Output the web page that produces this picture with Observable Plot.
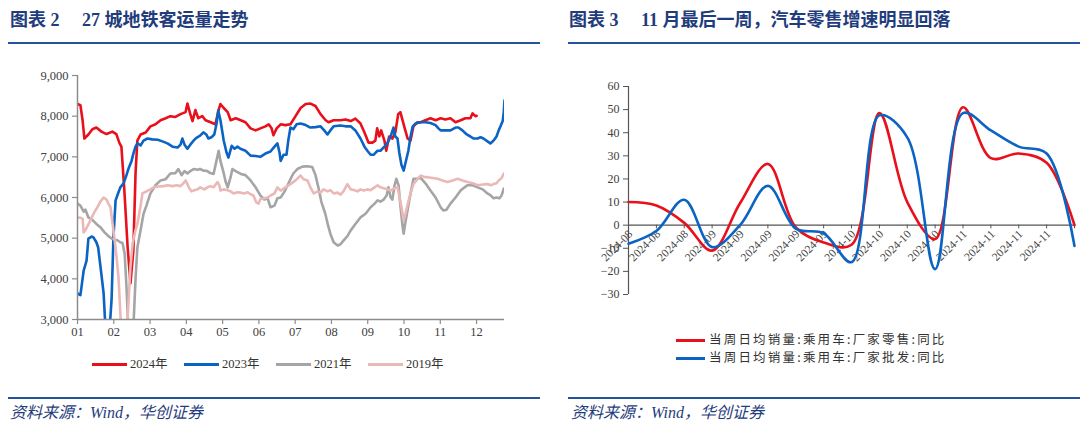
<!DOCTYPE html>
<html><head><meta charset="utf-8">
<script src="https://cdn.jsdelivr.net/npm/d3@7"></script>
<script src="https://cdn.jsdelivr.net/npm/@observablehq/plot@0.6"></script>
<style>
body{margin:0;width:1080px;height:440px;background:#fff;position:relative;overflow:hidden;font-family:"Liberation Serif","Noto Sans CJK SC",serif;}
.abs{position:absolute;}
.title{font-size:18px;font-weight:bold;color:#1f3c7c;white-space:nowrap;line-height:24px;}
.rule{height:2px;background:#24529c;}
.src{font-size:16px;font-style:italic;color:#1f3c7c;white-space:nowrap;line-height:20px;}
.sw{height:3px;}
.lg{font-size:12.5px;color:#333;white-space:nowrap;line-height:16px;}
.lg2{font-size:12.5px;color:#333;white-space:nowrap;line-height:16px;letter-spacing:2.2px;font-family:"Noto Sans CJK SC",sans-serif;}
</style></head>
<body>
<script>
// ---------- Left chart: 27城地铁客运量 (x = month position, 1 = Jan 1) ----------
const monthTicks = [1,2,3,4,5,6,7,8,9,10,11,12];
const monthLabels = ["01","02","03","04","05","06","07","08","09","10","11","12"];
const yTicksLeft = [3000,4000,5000,6000,7000,8000,9000];
const seriesNames = ["2024年","2023年","2021年","2019年"];
const seriesColors = ["#e8101a","#0b63c4","#a5a5a5","#ebb8b8"];

const s2024 = [[1.00,8300],[1.08,8270],[1.14,7900],[1.19,7450],[1.30,7550],[1.41,7680],[1.52,7720],[1.66,7620],[1.80,7560],[1.96,7620],[2.07,7560],[2.16,7330],[2.21,7250],[2.29,6200],[2.38,4800],[2.46,3890],[2.54,4700],[2.60,6600],[2.65,7400],[2.74,7550],[2.88,7600],[3.01,7750],[3.15,7800],[3.29,7900],[3.43,7950],[3.56,8000],[3.70,7980],[3.84,8050],[3.98,8100],[4.03,8310],[4.11,8050],[4.17,7880],[4.25,8150],[4.33,7950],[4.44,8000],[4.53,7900],[4.67,7850],[4.80,7800],[4.89,8150],[4.94,8300],[5.03,8200],[5.14,8100],[5.22,7900],[5.36,7950],[5.50,7900],[5.63,7850],[5.77,7700],[5.91,7650],[6.04,7700],[6.18,7750],[6.27,7800],[6.35,7700],[6.40,7530],[6.49,7700],[6.60,7800],[6.73,7780],[6.87,7800],[7.01,8000],[7.15,8200],[7.29,8300],[7.42,8310],[7.56,8250],[7.70,8050],[7.84,7900],[7.92,7850],[8.06,7900],[8.25,7900],[8.39,7920],[8.53,7880],[8.66,7940],[8.80,7820],[8.91,7600],[9.02,7350],[9.13,7350],[9.21,7400],[9.26,7700],[9.32,7500],[9.37,7650],[9.46,7400],[9.51,7150],[9.59,7500],[9.68,7450],[9.76,7600],[9.84,8050],[9.90,8100],[10.02,7700],[10.10,7450],[10.18,7400],[10.26,7750],[10.37,7850],[10.46,7850],[10.59,7900],[10.73,7950],[10.87,7900],[11.01,7950],[11.14,7920],[11.28,7950],[11.42,7850],[11.56,7900],[11.69,7950],[11.83,7950],[11.89,8070],[11.97,8000],[12.00,8010]];

const s2023 = [[1.00,3640],[1.08,3600],[1.17,4200],[1.25,4450],[1.30,4990],[1.39,5040],[1.44,5020],[1.52,4900],[1.57,4770],[1.66,4100],[1.72,3640],[1.77,2800],[1.83,2500],[1.88,2700],[1.94,3500],[1.99,5000],[2.05,5930],[2.13,6130],[2.18,6250],[2.27,6350],[2.35,6550],[2.41,6720],[2.49,6900],[2.54,7080],[2.60,7250],[2.65,7330],[2.74,7280],[2.82,7400],[2.93,7450],[3.06,7430],[3.21,7420],[3.34,7380],[3.48,7330],[3.62,7250],[3.76,7230],[3.84,7300],[3.89,7450],[3.95,7300],[4.03,7200],[4.11,7300],[4.22,7420],[4.30,7480],[4.38,7520],[4.47,7600],[4.55,7550],[4.61,7450],[4.69,7480],[4.77,7550],[4.83,7800],[4.88,8140],[4.94,7900],[5.03,7400],[5.11,7100],[5.16,6980],[5.25,7270],[5.33,7200],[5.41,7250],[5.49,7200],[5.63,7150],[5.77,7030],[5.91,7020],[6.04,7000],[6.18,7080],[6.32,7130],[6.43,7250],[6.51,7330],[6.57,7100],[6.60,6900],[6.68,7050],[6.76,7050],[6.81,7400],[6.87,7720],[6.95,7680],[7.04,7800],[7.15,7820],[7.29,7780],[7.42,7720],[7.56,7730],[7.70,7750],[7.80,7650],[7.89,7550],[7.97,7650],[8.06,7750],[8.25,7770],[8.39,7750],[8.53,7750],[8.66,7650],[8.80,7450],[8.91,7250],[8.99,7150],[9.08,7050],[9.16,7050],[9.27,7150],[9.35,7150],[9.46,7250],[9.54,7330],[9.63,7500],[9.71,7720],[9.76,7500],[9.82,7450],[9.87,7100],[9.93,6800],[9.99,6660],[10.04,6850],[10.12,7150],[10.18,7500],[10.24,7750],[10.32,7820],[10.46,7850],[10.59,7850],[10.73,7830],[10.87,7780],[10.95,7700],[11.01,7650],[11.14,7650],[11.28,7650],[11.42,7720],[11.50,7720],[11.61,7650],[11.73,7550],[11.83,7500],[11.92,7450],[12.03,7450],[12.11,7480],[12.19,7450],[12.30,7380],[12.38,7330],[12.47,7400],[12.55,7500],[12.61,7650],[12.66,7750],[12.72,7880],[12.75,8100],[12.77,8390]];

const s2021 = [[1.00,5850],[1.08,5800],[1.17,5650],[1.22,5700],[1.30,5510],[1.41,5450],[1.52,5350],[1.63,5270],[1.74,5150],[1.85,5050],[1.94,4990],[2.02,4970],[2.10,4950],[2.18,4900],[2.24,4880],[2.30,4620],[2.35,3800],[2.41,2600],[2.49,2500],[2.54,2800],[2.60,4000],[2.65,4770],[2.74,5200],[2.82,5600],[2.90,5800],[3.01,6100],[3.15,6300],[3.29,6420],[3.43,6450],[3.56,6590],[3.70,6600],[3.78,6700],[3.87,6550],[3.95,6650],[4.03,6590],[4.11,6650],[4.20,6700],[4.31,6680],[4.38,6700],[4.47,6660],[4.58,6650],[4.66,6600],[4.75,6580],[4.83,6900],[4.89,7150],[4.94,6900],[5.03,6600],[5.08,6400],[5.14,6250],[5.22,6500],[5.27,6700],[5.36,6650],[5.50,6580],[5.63,6550],[5.77,6420],[5.91,6250],[6.04,6050],[6.15,5950],[6.24,5980],[6.32,5760],[6.43,5800],[6.51,5980],[6.60,6000],[6.71,6150],[6.79,6300],[6.87,6450],[6.95,6590],[7.06,6700],[7.20,6760],[7.33,6770],[7.47,6750],[7.56,6550],[7.64,6250],[7.72,5900],[7.83,5600],[7.91,5300],[7.97,5110],[8.06,4900],[8.17,4820],[8.25,4850],[8.33,4940],[8.44,5050],[8.53,5190],[8.66,5350],[8.80,5510],[8.94,5600],[9.08,5760],[9.19,5850],[9.27,5930],[9.35,5900],[9.44,5950],[9.52,6050],[9.57,6250],[9.63,6000],[9.68,5950],[9.74,6300],[9.79,6460],[9.85,6300],[9.90,5800],[9.96,5300],[9.99,5110],[10.04,5400],[10.10,5700],[10.18,6100],[10.26,6460],[10.35,6460],[10.46,6480],[10.59,6350],[10.73,6170],[10.87,6000],[11.01,5760],[11.09,5680],[11.17,5700],[11.28,5850],[11.42,6000],[11.56,6170],[11.67,6250],[11.75,6300],[11.89,6300],[12.03,6250],[12.17,6200],[12.30,6100],[12.39,6050],[12.47,5980],[12.55,6000],[12.63,5980],[12.69,6050],[12.75,6220]];

const s2019 = [[1.00,5510],[1.08,5500],[1.14,5480],[1.17,5140],[1.22,5200],[1.30,5340],[1.39,5500],[1.47,5650],[1.55,5760],[1.63,5900],[1.72,6000],[1.80,5950],[1.85,5850],[1.91,5760],[1.96,5400],[2.02,5000],[2.08,4500],[2.13,4040],[2.19,3000],[2.24,2500],[2.32,2500],[2.38,3000],[2.46,4300],[2.52,4870],[2.60,5200],[2.65,5350],[2.74,5800],[2.79,6100],[2.90,6150],[3.01,6200],[3.10,6250],[3.23,6270],[3.37,6280],[3.48,6300],[3.62,6280],[3.73,6300],[3.84,6280],[3.92,6350],[3.98,6420],[4.07,6250],[4.14,6150],[4.20,6170],[4.31,6200],[4.38,6250],[4.50,6200],[4.58,6250],[4.67,6280],[4.75,6250],[4.86,6380],[4.91,6300],[4.94,6170],[5.03,6200],[5.14,6180],[5.22,6150],[5.30,6100],[5.41,6130],[5.49,6120],[5.60,6100],[5.69,6130],[5.77,6080],[5.85,6050],[5.93,5880],[5.99,5850],[6.04,5960],[6.15,5980],[6.24,6000],[6.32,6050],[6.43,6100],[6.51,6250],[6.60,6170],[6.73,6250],[6.87,6330],[7.01,6420],[7.15,6540],[7.23,6450],[7.34,6420],[7.42,6250],[7.51,6100],[7.62,6150],[7.70,6120],[7.78,6200],[7.89,6150],[7.97,6180],[8.06,6100],[8.17,6120],[8.25,6070],[8.33,6150],[8.44,6330],[8.53,6200],[8.64,6180],[8.72,6150],[8.80,6200],[8.89,6170],[8.99,6200],[9.08,6180],[9.19,6250],[9.27,6300],[9.35,6250],[9.44,6230],[9.55,6200],[9.63,6170],[9.74,6230],[9.82,6250],[9.88,6000],[9.93,5760],[9.99,5440],[10.04,5600],[10.12,5900],[10.18,6100],[10.26,6330],[10.37,6450],[10.46,6540],[10.57,6500],[10.65,6500],[10.79,6480],[10.93,6460],[11.06,6420],[11.20,6380],[11.34,6420],[11.48,6460],[11.61,6420],[11.75,6380],[11.89,6350],[12.03,6300],[12.17,6320],[12.30,6330],[12.39,6300],[12.47,6330],[12.55,6350],[12.61,6420],[12.69,6480],[12.75,6590]];

// ---------- Right chart: 当周日均销量 同比 (%) ----------
// 17 weekly points; the reference shows labels for the first 16 only
const weekLabels = ["2024-08","2024-08","2024-08","2024-09","2024-09","2024-09","2024-09","2024-09","2024-10","2024-10","2024-10","2024-10","2024-11","2024-11","2024-11","2024-11","2024-11"];
const shownLabelCount = 16;
const retailYoY    = [10, 8.5, 1, -11, 9.5, 26.5, -1, -7.5, -8.5, 48.5, 10, -6, 51, 29, 31, 27, 0];
const wholesaleYoY = [-8, -2.5, 11, -9.5, 0, 17, -1.5, -3.5, -16, 47.5, 38, -19, 48.5, 41, 34, 31, -9];
const yTicksRight = [-30,-20,-10,0,10,20,30,40,50,60];
const rightNames = ["当周日均销量:乘用车:厂家零售:同比","当周日均销量:乘用车:厂家批发:同比"];
const rightColors = ["#e8101a","#0b63c4"];

function el(tag, cls, style, text){
  const e=document.createElement(tag); if(cls) e.className=cls;
  Object.assign(e.style, style||{}); if(text!=null) e.textContent=text;
  document.body.appendChild(e); return e;
}
const px = v => v + "px";

// headers & footers
el("div","abs title",{left:px(10),top:px(8)},"图表 2\u3000 27 城地铁客运量走势");
el("div","abs rule",{left:px(8),top:px(42),width:px(532)});
el("div","abs title",{left:px(569),top:px(8)},"图表 3\u3000 11 月最后一周，汽车零售增速明显回落");
el("div","abs rule",{left:px(568),top:px(42),width:px(512)});
el("div","abs rule",{left:px(8),top:px(397),width:px(532)});
el("div","abs rule",{left:px(568),top:px(397),width:px(512)});
el("div","abs src",{left:px(10),top:px(403)},"资料来源：Wind，华创证券");
el("div","abs src",{left:px(571),top:px(403)},"资料来源：Wind，华创证券");

// left legend
const lgX = [92,184,276,368];
seriesNames.forEach((n,i)=>{
  el("div","abs sw",{left:px(lgX[i]),top:px(363),width:px(35),background:seriesColors[i]});
  el("div","abs lg",{left:px(lgX[i]+38),top:px(356)},n);
});
// right legend
rightNames.forEach((n,i)=>{
  el("div","abs sw",{left:px(676),top:px(339+i*18),width:px(29),background:rightColors[i]});
  el("div","abs lg2",{left:px(709),top:px(331+i*18)},n);
});

// ---------- Left plot ----------
const leftData = [s2024,s2023,s2021,s2019].flatMap((s,k)=>s.map(([m,v])=>({m,v,k})));
const axisCol = "#8c8c8c";
const left = Plot.plot({
  width:530, height:285,
  marginLeft:77, marginRight:26, marginTop:15, marginBottom:26,
  x:{domain:[1,12.77]},
  y:{domain:[3000,9000]},
  style:{fontFamily:"'Liberation Serif',serif", fontSize:"12.5px", color:"#404040", background:"transparent"},
  marks:[
    ...[0,1,2,3].map(k=>Plot.line(leftData.filter(d=>d.k===k),{x:"m",y:"v",stroke:seriesColors[k],strokeWidth:2.6,clip:true,strokeLinejoin:"round"})),
    Plot.ruleX([1],{stroke:axisCol,strokeWidth:1.5}),
    Plot.ruleY([3000],{stroke:axisCol,strokeWidth:1.5}),
    Plot.axisY({ticks:yTicksLeft,tickFormat:d3.format(","),tickSize:5,tickPadding:4,stroke:axisCol,strokeWidth:1.2,label:null}),
    Plot.axisX({ticks:monthTicks,tickFormat:d=>monthLabels[monthTicks.indexOf(d)],tickSize:5,tickPadding:3,stroke:axisCol,strokeWidth:1.2,label:null})
  ]
});
Object.assign(left.style,{position:"absolute",left:"0px",top:"60px"});
document.body.appendChild(left);

// ---------- Right plot ----------
const idx = weekLabels.map((_,i)=>i);
const labelIdx = idx.slice(0, shownLabelCount);
const rightData = [retailYoY,wholesaleYoY].flatMap((s,k)=>s.map((v,i)=>({i,v,k})));
const right = Plot.plot({
  width:520, height:240,
  marginLeft:68, marginRight:6, marginTop:16, marginBottom:16,
  x:{domain:[0,16], axis:null},
  y:{domain:[-30,60]},
  style:{fontFamily:"'Liberation Serif',serif", fontSize:"12px", color:"#404040", background:"transparent"},
  marks:[
    Plot.ruleX([0],{y1:-30,y2:60,stroke:"#555",strokeWidth:1.2}),
    Plot.ruleY([0],{stroke:"#555",strokeWidth:1.2}),
    Plot.ruleX(idx,{x:d=>d,y1:0,y2:-1.6,stroke:"#555",strokeWidth:1}),
    Plot.axisY({ticks:yTicksRight,tickSize:5,tickPadding:4,stroke:"#555",label:null}),
    Plot.text(labelIdx,{x:d=>d,y:0,text:d=>weekLabels[d],rotate:-45,textAnchor:"end",lineAnchor:"middle",dx:2,dy:7,fontSize:11.5,fill:"#444"}),
    ...[0,1].map(k=>Plot.line(rightData.filter(d=>d.k===k),{x:"i",y:"v",stroke:rightColors[k],strokeWidth:2.6,curve:"catmull-rom"}))
  ]
});
Object.assign(right.style,{position:"absolute",left:"560px",top:"70px"});
document.body.appendChild(right);
</script>
</body></html>
